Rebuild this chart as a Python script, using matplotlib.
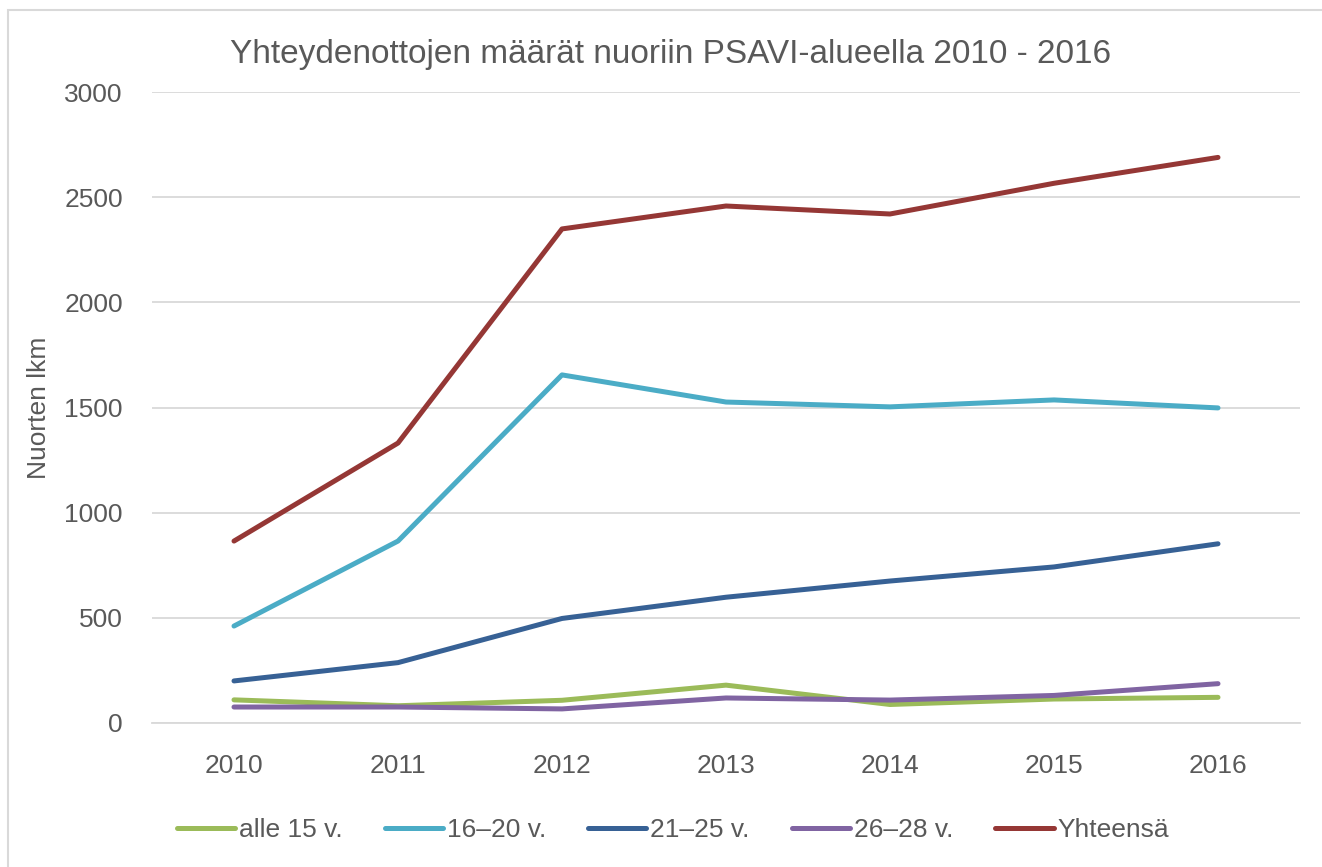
import matplotlib
matplotlib.use("Agg")
import matplotlib.pyplot as plt
from matplotlib.patches import Rectangle

years = ["2010", "2011", "2012", "2013", "2014", "2015", "2016"]
alle15 = [110, 82, 108, 180, 88, 114, 122]
v16_20 = [461, 865, 1655, 1526, 1503, 1536, 1498]
v21_25 = [200, 287, 497, 598, 675, 742, 852]
v26_28 = [76, 76, 67, 119, 109, 131, 187]
yhteensa = [865, 1331, 2349, 2458, 2420, 2566, 2689]

series = [
    ("alle 15 v.", alle15, "#9BBB59"),
    ("16\u201320 v.", v16_20, "#4BACC6"),
    ("21\u201325 v.", v21_25, "#376195"),
    ("26\u201328 v.", v26_28, "#8064A2"),
    ("Yhteensä", yhteensa, "#953735"),
]

plt.rcParams['font.family'] = ['Liberation Sans', 'DejaVu Sans']
txt = "#595959"

fig = plt.figure(figsize=(13.22, 8.67), dpi=100)
fig.patches.append(Rectangle((8/1322, -0.1), 1.2, 1 - 10/867 + 0.1, transform=fig.transFigure,
                             fill=False, edgecolor="#D9D9D9", linewidth=1.5))
ax = fig.add_axes([152/1322, 1 - 723/867, (1300 - 152)/1322, (723 - 92)/867])

x = list(range(len(years)))
for name, vals, col in series:
    ax.plot(x, vals, color=col, linewidth=3.6, label=name, solid_capstyle="round",
            solid_joinstyle="round")

ax.set_xlim(-0.5, 6.5)
ax.set_ylim(0, 3000)
ax.set_yticks(range(0, 3001, 500))
ax.set_xticks(x)
ax.set_xticklabels(years)
ax.grid(axis="y", color="#D9D9D9", linewidth=1.3)
ax.set_axisbelow(True)
for s in ["top", "right", "left"]:
    ax.spines[s].set_visible(False)
ax.spines["bottom"].set_color("#D9D9D9")
ax.spines["bottom"].set_linewidth(1.3)
ax.tick_params(axis="both", length=0, labelsize=19, colors=txt)
ax.tick_params(axis="y", pad=21)
ax.tick_params(axis="x", pad=22)
ax.set_ylabel("Nuorten lkm", fontsize=19, color=txt)
ax.yaxis.set_label_coords(-0.088, 0.5)

fig.text(0.507, 1 - 55/867, "Yhteydenottojen määrät nuoriin PSAVI-alueella 2010 - 2016",
         ha="center", va="center", fontsize=24, color=txt)

leg = ax.legend(loc="center", bbox_to_anchor=((673 - 152) / 1148, (723 - 830) / 631), ncol=5,
                frameon=False, fontsize=19, handlelength=2.2, handletextpad=0.15,
                columnspacing=1.6, labelcolor=txt)

fig.savefig("out.png", dpi=100)
